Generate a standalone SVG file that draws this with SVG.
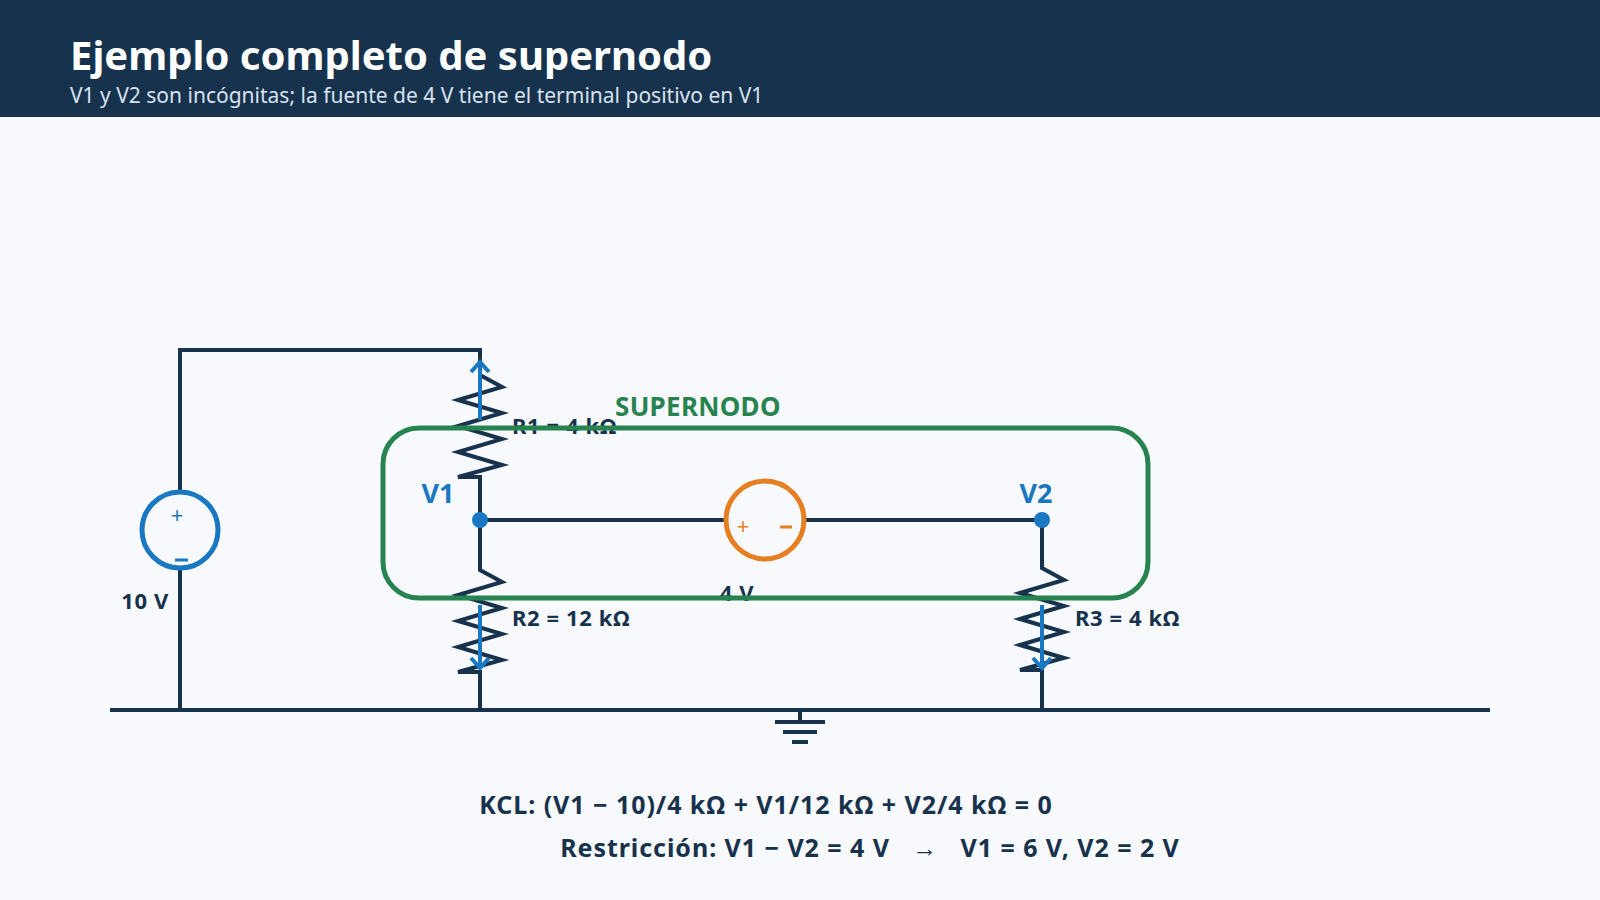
<svg xmlns="http://www.w3.org/2000/svg" width="1600" height="900" viewBox="0 0 1600 900">
<defs>
<style>
.w{fill:none;stroke:#17324d;stroke-width:4;stroke-linejoin:miter}
.cur{fill:none;stroke:#1a78c2;stroke-width:4}
.lbl{font-family:"Noto Sans","Open Sans",sans-serif;font-weight:bold;fill:#17324d;font-size:22px;letter-spacing:0.6px}
.nd{font-family:"Noto Sans",sans-serif;font-weight:bold;fill:#1a78c2;font-size:27px}
.eq{font-family:"Noto Sans",sans-serif;font-weight:bold;fill:#17324d;font-size:25px;letter-spacing:0.95px;text-anchor:middle}
</style>
</defs>
<rect width="1600" height="900" fill="#f7f9fc"/>
<rect width="1600" height="117" fill="#17324d"/>
<text x="70" y="70" font-family="Noto Sans,sans-serif" font-weight="bold" font-size="40" fill="#ffffff">Ejemplo completo de supernodo</text>
<text x="70" y="103" font-family="Noto Sans,sans-serif" font-size="21" fill="#d8e2ee">V1 y V2 son incógnitas; la fuente de 4 V tiene el terminal positivo en V1</text>

<g id="connectors">
<path class="w" d="M180,710 V568 M180,492 V350 H480 V375 L502,387 L458,400 L502,413 L458,426 L502,439 L458,452 L502,465 L458,477 H480 V520"/>
<path class="w" d="M480,520 H726 M804,520 H1042"/>
<path class="w" d="M480,520 V570 L502,582 L458,595 L502,608 L458,621 L502,634 L458,647 L502,660 L458,672 H480 V710"/>
<path class="w" d="M1042,520 V568 L1064,580 L1020,593 L1064,606 L1020,619 L1064,632 L1020,645 L1064,658 L1020,670 H1042 V710"/>
<path class="w" d="M110,710 H1490"/>
<path class="w" d="M800,710 V720 M775,722 H825 M783,732 H817 M792,742 H808"/>
<path class="cur" d="M480,420 V362 M471,372 L480,362 L489,372"/>
<path class="cur" d="M480,605 V668 M471,658 L480,668 L489,658"/>
<path class="cur" d="M1042,605 V668 M1033,658 L1042,668 L1051,658"/>
</g>

<g id="vs10">
<circle cx="180" cy="530" r="38" fill="#f7f9fc" stroke="#1a78c2" stroke-width="5"/>
<text x="177" y="523" font-family="Noto Sans,sans-serif" font-size="22" fill="#1a78c2" text-anchor="middle">+</text>
<path d="M175,560 H188" stroke="#1a78c2" stroke-width="3"/>
<text class="lbl" x="145" y="609" text-anchor="middle">10 V</text>
</g>
<g id="vs4">
<circle cx="765" cy="520" r="39" fill="#f7f9fc" stroke="#e67e22" stroke-width="5"/>
<text x="743" y="534" font-family="Noto Sans,sans-serif" font-size="22" fill="#e67e22" text-anchor="middle">+</text>
<path d="M780,527 H792" stroke="#e67e22" stroke-width="3"/>
<text class="lbl" x="737" y="601" text-anchor="middle">4 V</text>
</g>
<g id="R1"><text class="lbl" x="512" y="434">R1 = 4 kΩ</text></g>
<g id="R2"><text class="lbl" x="512" y="626">R2 = 12 kΩ</text></g>
<g id="R3"><text class="lbl" x="1075" y="626">R3 = 4 kΩ</text></g>
<g id="nodeV1"><circle cx="480" cy="520" r="8" fill="#1a78c2"/><text class="nd" x="438" y="503" text-anchor="middle">V1</text></g>
<g id="nodeV2"><circle cx="1042" cy="520" r="8" fill="#1a78c2"/><text class="nd" x="1036" y="503" text-anchor="middle">V2</text></g>
<g id="supernode">
<rect x="383" y="428" width="765" height="170" rx="36" fill="none" stroke="#27834f" stroke-width="5"/>
<text x="615" y="416" font-family="Noto Sans,sans-serif" font-weight="bold" font-size="26" fill="#27834f" letter-spacing="0.3">SUPERNODO</text>
</g>
<g id="equations">
<text class="eq" x="766" y="814">KCL: (V1 − 10)/4 kΩ + V1/12 kΩ + V2/4 kΩ = 0</text>
<text class="eq" x="870" y="857" xml:space="preserve">Restricción: V1 − V2 = 4 V   →   V1 = 6 V, V2 = 2 V</text>
</g>
</svg>
